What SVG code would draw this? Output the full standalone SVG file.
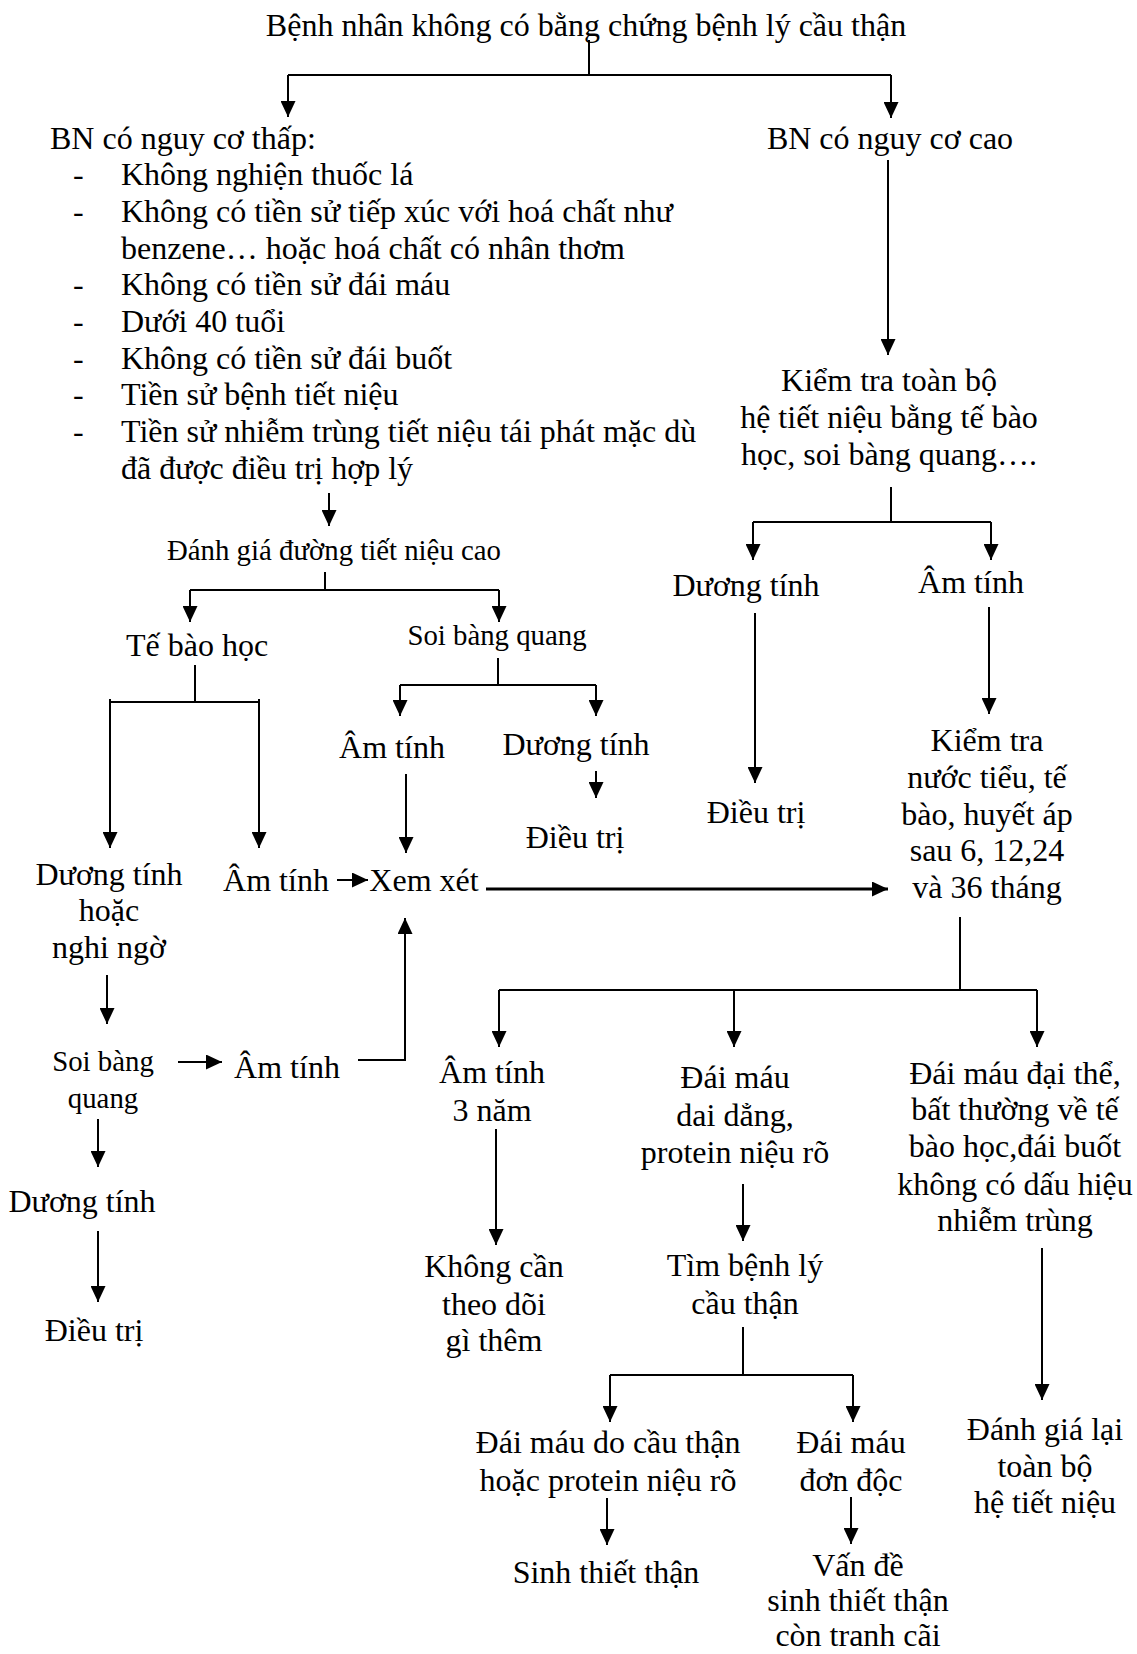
<svg xmlns="http://www.w3.org/2000/svg" width="1137" height="1654" viewBox="0 0 1137 1654">
<style>
text{font-family:"Liberation Serif","Times New Roman",serif;font-size:32px;fill:#000}
.s{font-size:28.8px}
.c{text-anchor:middle}
.ln{fill:none;stroke:#000;stroke-width:2}
.ar{fill:none;stroke:#000;stroke-width:2;marker-end:url(#ah)}
.thick{stroke-width:3}
</style>
<defs>
<marker id="ah" viewBox="0 0 16 15" refX="16" refY="7.5" markerWidth="16" markerHeight="15" markerUnits="userSpaceOnUse" orient="auto">
<path d="M0,0 L16,7.5 L0,15 z" fill="#000"/>
</marker>
</defs>
<rect width="1137" height="1654" fill="#fff"/>
<g id="connectors">
<path class="ln" d="M589,40 V75 M288,75 H891"/>
<path class="ar" d="M288,75 V117"/>
<path class="ar" d="M891,75 V118"/>
<path class="ar" d="M888,160 V355"/>
<path class="ln" d="M891,487 V522 M753,522 H991"/>
<path class="ar" d="M753,522 V560"/>
<path class="ar" d="M991,522 V560"/>
<path class="ar" d="M755,613 V783"/>
<path class="ar" d="M989,607 V714"/>
<path class="ln" d="M960,917 V990 M499,990 H1037"/>
<path class="ar" d="M499,990 V1047"/>
<path class="ar" d="M734,990 V1047"/>
<path class="ar" d="M1037,990 V1047"/>
<path class="ar" d="M496,1129 V1245"/>
<path class="ar" d="M743,1184 V1241"/>
<path class="ln" d="M743,1327 V1375 M610,1375 H853"/>
<path class="ar" d="M610,1375 V1422"/>
<path class="ar" d="M853,1375 V1422"/>
<path class="ar" d="M607,1498 V1545"/>
<path class="ar" d="M851,1497 V1544"/>
<path class="ar" d="M1042,1248 V1400"/>
<path class="ar" d="M329,493 V526"/>
<path class="ln" d="M325,572 V590 M190,590 H499"/>
<path class="ar" d="M190,590 V622"/>
<path class="ar" d="M499,590 V622"/>
<path class="ln" d="M195,665 V702 M110,702 H259"/>
<path class="ar" d="M110,699 V848"/>
<path class="ar" d="M259,699 V848"/>
<path class="ln" d="M498,658 V685 M400,685 H596"/>
<path class="ar" d="M400,685 V716"/>
<path class="ar" d="M596,685 V716"/>
<path class="ar" d="M596,771 V798"/>
<path class="ar" d="M406,774 V853"/>
<path class="ar" d="M337,880 H368"/>
<path class="ar thick" d="M486,889 H888"/>
<path class="ar" d="M358,1060 H405 V918"/>
<path class="ar" d="M178,1062 H222"/>
<path class="ar" d="M107,975 V1024"/>
<path class="ar" d="M98,1119 V1167"/>
<path class="ar" d="M98,1231 V1302"/>
</g>
<g id="nodes" transform="translate(0,2.5)">
<g id="n-title"><text class="c" x="586" y="33">Bệnh nhân không có bằng chứng bệnh lý cầu thận</text></g>
<g id="n-low-risk">
<text x="50" y="146">BN có nguy cơ thấp:</text>
<text x="73" y="182">-</text><text x="121" y="182">Không nghiện thuốc lá</text>
<text x="73" y="219">-</text><text x="121" y="219">Không có tiền sử tiếp xúc với hoá chất như</text>
<text x="121" y="256">benzene… hoặc hoá chất có nhân thơm</text>
<text x="73" y="292">-</text><text x="121" y="292">Không có tiền sử đái máu</text>
<text x="73" y="329">-</text><text x="121" y="329">Dưới 40 tuổi</text>
<text x="73" y="366">-</text><text x="121" y="366">Không có tiền sử đái buốt</text>
<text x="73" y="402">-</text><text x="121" y="402">Tiền sử bệnh tiết niệu</text>
<text x="73" y="439">-</text><text x="121" y="439">Tiền sử nhiễm trùng tiết niệu tái phát mặc dù</text>
<text x="121" y="476">đã được điều trị hợp lý</text>
</g>
<g id="n-high-risk"><text class="c" x="890" y="146">BN có nguy cơ cao</text></g>
<g id="n-full-exam"><text class="c" x="889" y="388">Kiểm tra toàn bộ</text><text class="c" x="889" y="425">hệ tiết niệu bằng tế bào</text><text class="c" x="889" y="462">học, soi bàng quang….</text></g>
<g id="n-hr-pos"><text class="c" x="746" y="593">Dương tính</text></g>
<g id="n-hr-neg"><text class="c" x="971" y="590">Âm tính</text></g>
<g id="n-hr-treat"><text class="c" x="756" y="820">Điều trị</text></g>
<g id="n-followup"><text class="c" x="987" y="748">Kiểm tra</text><text class="c" x="987" y="785">nước tiểu, tế</text><text class="c" x="987" y="822">bào, huyết áp</text><text class="c" x="987" y="858">sau 6, 12,24</text><text class="c" x="987" y="895">và 36 tháng</text></g>
<g id="n-upper-eval"><text class="c s" x="334" y="557">Đánh giá đường tiết niệu cao</text></g>
<g id="n-cytology"><text class="c" x="197" y="653">Tế bào học</text></g>
<g id="n-cysto"><text class="c s" x="497" y="642">Soi bàng quang</text></g>
<g id="n-cyt-pos"><text class="c" x="109" y="882">Dương tính</text><text class="c" x="109" y="918">hoặc</text><text class="c" x="109" y="955">nghi ngờ</text></g>
<g id="n-cyt-neg"><text class="c" x="276" y="888">Âm tính</text></g>
<g id="n-review"><text class="c" x="424" y="888">Xem xét</text></g>
<g id="n-cysto-neg"><text class="c" x="392" y="755">Âm tính</text></g>
<g id="n-cysto-pos"><text class="c" x="576" y="752">Dương tính</text></g>
<g id="n-cysto-treat"><text class="c" x="575" y="845">Điều trị</text></g>
<g id="n-cysto2"><text class="c s" x="103" y="1068">Soi bàng</text><text class="c s" x="103" y="1105">quang</text></g>
<g id="n-cysto2-neg"><text class="c" x="287" y="1075">Âm tính</text></g>
<g id="n-cysto2-pos"><text class="c" x="82" y="1209">Dương tính</text></g>
<g id="n-cysto2-treat"><text class="c" x="94" y="1338">Điều trị</text></g>
<g id="n-neg3y"><text class="c" x="492" y="1080">Âm tính</text><text class="c" x="492" y="1118">3 năm</text></g>
<g id="n-persist"><text class="c" x="735" y="1085">Đái máu</text><text class="c" x="735" y="1123">dai dẳng,</text><text class="c" x="735" y="1160">protein niệu rõ</text></g>
<g id="n-gross"><text class="c" x="1015" y="1081">Đái máu đại thể,</text><text class="c" x="1015" y="1117">bất thường về tế</text><text class="c" x="1015" y="1154">bào học,đái buốt</text><text class="c" x="1015" y="1192">không có dấu hiệu</text><text class="c" x="1015" y="1228">nhiễm trùng</text></g>
<g id="n-nofollow"><text class="c" x="494" y="1274">Không cần</text><text class="c" x="494" y="1312">theo dõi</text><text class="c" x="494" y="1348">gì thêm</text></g>
<g id="n-glom"><text class="c" x="745" y="1273">Tìm bệnh lý</text><text class="c" x="745" y="1311">cầu thận</text></g>
<g id="n-glom-hem"><text class="c" x="608" y="1450">Đái máu do cầu thận</text><text class="c" x="608" y="1488">hoặc protein niệu rõ</text></g>
<g id="n-isolated"><text class="c" x="851" y="1450">Đái máu</text><text class="c" x="851" y="1488">đơn độc</text></g>
<g id="n-biopsy"><text class="c" x="606" y="1580">Sinh thiết thận</text></g>
<g id="n-debate"><text class="c" x="858" y="1573">Vấn đề</text><text class="c" x="858" y="1608">sinh thiết thận</text><text class="c" x="858" y="1643">còn tranh cãi</text></g>
<g id="n-reeval"><text class="c" x="1045" y="1437">Đánh giá lại</text><text class="c" x="1045" y="1474">toàn bộ</text><text class="c" x="1045" y="1510">hệ tiết niệu</text></g>
</g>
</svg>
